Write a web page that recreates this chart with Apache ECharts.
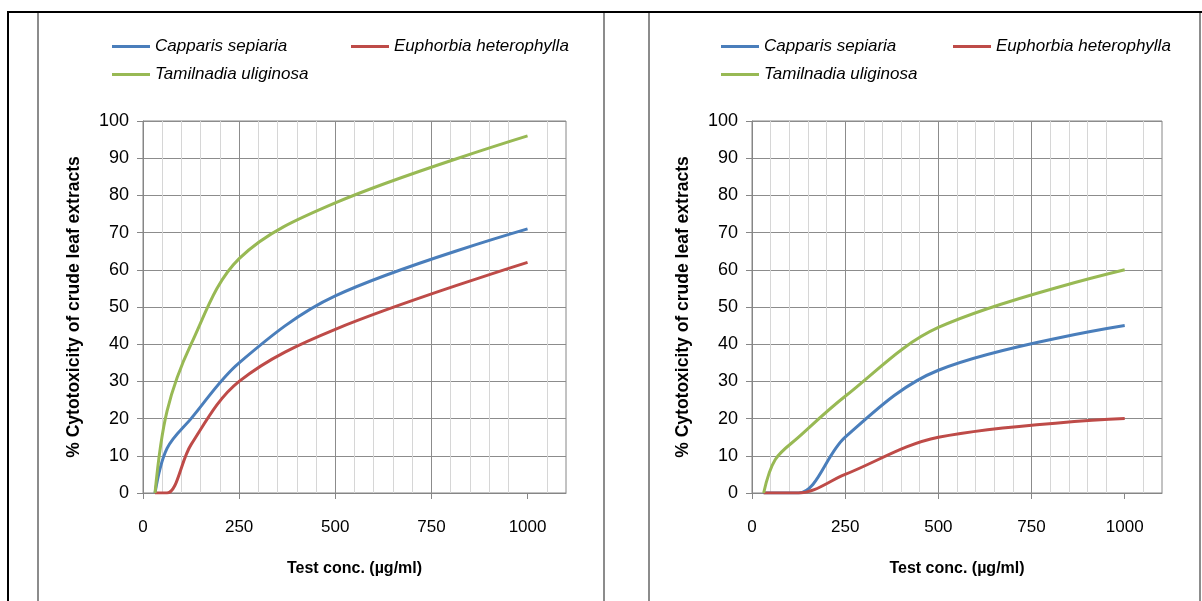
<!DOCTYPE html>
<html>
<head>
<meta charset="utf-8">
<title>Cytotoxicity of crude leaf extracts</title>
<script src="https://cdn.jsdelivr.net/npm/echarts@6.0.0/dist/echarts.min.js"></script>
<style>
    html, body { margin: 0; padding: 0; background: #fff; }
    #draw-main { width: 1202px; height: 601px; }
</style>
</head>
<body>
<div id="draw-main"></div>
<script>
// test concentrations (µg/ml)
let conc = [31.25, 62.5, 125, 250, 500, 1000];
let xTicks = [0, 250, 500, 750, 1000];
let names = ['Capparis sepiaria', 'Euphorbia heterophylla', 'Tamilnadia uliginosa'];

// left panel
let capparisA = [0, 12, 20, 35, 53, 71];
let euphorbiaA = [0, 0, 13, 30, 44, 62];
let tamilnadiaA = [0, 22, 40, 63, 78, 96];

// right panel
let capparisB = [0, 0, 0, 15, 33, 45];
let euphorbiaB = [0, 0, 0, 5, 15, 20];
let tamilnadiaB = [0, 9, 15, 26, 44.5, 60];

let colors = ['#4a7ebb', '#be4b48', '#98b954'];
let font = '"Liberation Sans", Arial, sans-serif';

let chartObj = {
    init: function () {
        this.draw();
    },
    pairs: function (vals) {
        return conc.map(function (c, i) { return [c, vals[i]]; });
    },
    xAxis: function (idx) {
        return {
            type: 'value', gridIndex: idx, min: 0, max: 1100, interval: 50,
            name: 'Test conc. (µg/ml)', nameLocation: 'middle', nameGap: 68,
            nameTextStyle: { fontFamily: font, fontSize: 16, fontWeight: 'bold', color: '#000' },
            axisLine: { show: true, lineStyle: { color: '#868686' } },
            axisTick: { show: true, customValues: xTicks, length: 6, lineStyle: { color: '#868686' } },
            axisLabel: {
                customValues: xTicks, margin: 26, fontFamily: font, fontSize: 17, color: '#000',
                formatter: function (v) { return String(v); }
            },
            splitLine: { show: true, showMaxLine: false, lineStyle: { color: '#8c8c8c' } }
        };
    },
    // light lines every 50, drawn by a hidden axis on the same grid
    minorAxis: function (idx) {
        return {
            type: 'value', gridIndex: idx, min: 0, max: 1100, interval: 50,
            axisLine: { show: false }, axisTick: { show: false }, axisLabel: { show: false },
            splitLine: {
                show: true, showMaxLine: false,
                lineStyle: { color: ['transparent', '#d6d6d6', '#d6d6d6', '#d6d6d6', '#d6d6d6'] }
            }
        };
    },
    yAxis: function (idx) {
        return {
            type: 'value', gridIndex: idx, min: 0, max: 100, interval: 10,
            name: '% Cytotoxicity of crude leaf extracts', nameLocation: 'middle', nameGap: 60,
            nameTextStyle: { fontFamily: font, fontSize: 17.5, fontWeight: 'bold', color: '#000' },
            axisLine: { show: true, lineStyle: { color: '#868686' } },
            axisTick: { show: true, length: 6, lineStyle: { color: '#868686' } },
            axisLabel: { margin: 14, fontFamily: font, fontSize: 18, color: '#000' },
            splitLine: { show: true, lineStyle: { color: '#8c8c8c' } }
        };
    },
    legend: function (i, left, top) {
        return {
            data: [names[i]], left: left, top: top, icon: 'rect', padding: 0,
            itemWidth: 38, itemHeight: 3, selectedMode: false,
            textStyle: { fontFamily: font, fontSize: 17, fontStyle: 'italic', color: '#000' }
        };
    },
    line: function (i, idx, vals) {
        return {
            name: names[i], type: 'line', xAxisIndex: idx, yAxisIndex: idx,
            data: this.pairs(vals), smooth: 0.35, showSymbol: false,
            lineStyle: { width: 3, color: colors[i] }, itemStyle: { color: colors[i] }
        };
    },
    draw: function () {
        let myChart = echarts.init(document.getElementById('draw-main'));
        let frame = { stroke: '#000', lineWidth: 2 };
        let gray = { stroke: '#8c8c8c', lineWidth: 2 };

        let option = {
            animation: false,
            backgroundColor: '#fff',
            grid: [
                { left: 143, top: 121, width: 423, height: 372, show: true, borderColor: '#868686' },
                { left: 752, top: 121, width: 410, height: 372, show: true, borderColor: '#868686' }
            ],
            xAxis: [this.xAxis(0), this.xAxis(1), this.minorAxis(0), this.minorAxis(1)],
            yAxis: [this.yAxis(0), this.yAxis(1)],
            legend: [
                this.legend(0, 112, 38), this.legend(1, 351, 38), this.legend(2, 112, 66),
                this.legend(0, 721, 38), this.legend(1, 953, 38), this.legend(2, 721, 66)
            ],
            graphic: [
                { type: 'line', shape: { x1: 7, y1: 12, x2: 1202, y2: 12 }, style: frame },
                { type: 'line', shape: { x1: 8, y1: 12, x2: 8, y2: 601 }, style: frame },
                { type: 'line', shape: { x1: 38, y1: 13, x2: 38, y2: 601 }, style: gray },
                { type: 'line', shape: { x1: 604, y1: 13, x2: 604, y2: 601 }, style: gray },
                { type: 'line', shape: { x1: 649, y1: 13, x2: 649, y2: 601 }, style: gray },
                { type: 'line', shape: { x1: 1200, y1: 13, x2: 1200, y2: 601 }, style: gray }
            ],
            series: [
                this.line(0, 0, capparisA), this.line(1, 0, euphorbiaA), this.line(2, 0, tamilnadiaA),
                this.line(0, 1, capparisB), this.line(1, 1, euphorbiaB), this.line(2, 1, tamilnadiaB)
            ]
        };

        myChart.setOption(option, true);
    }
};

chartObj.init();
</script>
</body>
</html>
